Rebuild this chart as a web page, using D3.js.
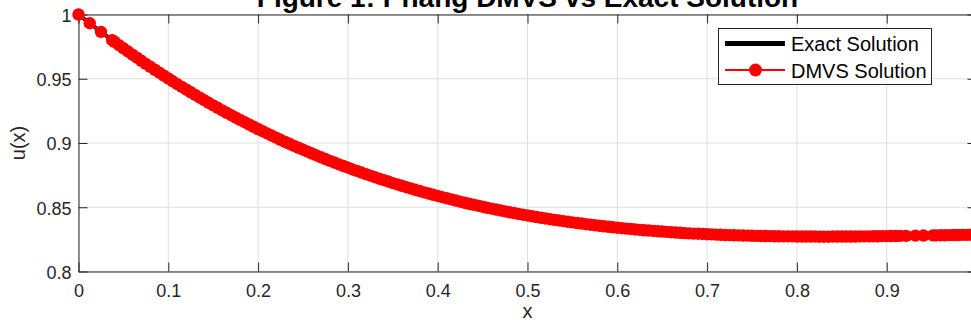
<!DOCTYPE html>
<html>
<head>
<meta charset="utf-8">
<script src="https://cdn.jsdelivr.net/npm/d3@7"></script>
<style>
  html, body { margin: 0; padding: 0; background: #ffffff; }
  svg { display: block; }
</style>
</head>
<body>
<svg id="chart" width="971" height="329"></svg>
<script>
// ---- chart data ----
const titleText = "Figure 1: Phang DMVS vs Exact Solution";
const xLabel = "x";
const yLabel = "u(x)";
const seriesNames = ["Exact Solution", "DMVS Solution"];

const xTicks = [0, 0.1, 0.2, 0.3, 0.4, 0.5, 0.6, 0.7, 0.8, 0.9];
const xTickLabels = ["0", "0.1", "0.2", "0.3", "0.4", "0.5", "0.6", "0.7", "0.8", "0.9"];
const yTicks = [0.8, 0.85, 0.9, 0.95, 1];
const yTickLabels = ["0.8", "0.85", "0.9", "0.95", "1"];

// exact solution u(x)
const exactX = [0, 0.025, 0.05, 0.075, 0.1, 0.125, 0.15, 0.175, 0.2, 0.225, 0.25, 0.275, 0.3, 0.325,
  0.35, 0.375, 0.4, 0.425, 0.45, 0.475, 0.5, 0.525, 0.55, 0.575, 0.6, 0.625, 0.65, 0.675, 0.7,
  0.725, 0.75, 0.775, 0.8, 0.825, 0.85, 0.875, 0.9, 0.925, 0.95, 0.975, 1.0];
const exactU = [1.0000, 0.9865, 0.9737, 0.9616, 0.9502, 0.9395, 0.9293, 0.9198, 0.9109, 0.9025,
  0.8948, 0.8875, 0.8808, 0.8746, 0.8688, 0.8636, 0.8588, 0.8544, 0.8504, 0.8468, 0.8436, 0.8407,
  0.8382, 0.8360, 0.8341, 0.8324, 0.8311, 0.8299, 0.8290, 0.8283, 0.8278, 0.8274, 0.8272, 0.8271,
  0.8272, 0.8273, 0.8275, 0.8278, 0.8281, 0.8284, 0.8287];

// DMVS nodes and computed values
const dmvsX = [0, 0.0125, 0.025, 0.0375,
  0.04, 0.045, 0.05, 0.055, 0.06, 0.065, 0.07, 0.075, 0.08, 0.085, 0.09, 0.095,
  0.1, 0.105, 0.11, 0.115, 0.12, 0.125, 0.13, 0.135, 0.14, 0.145,
  0.15, 0.155, 0.16, 0.165, 0.17, 0.175, 0.18, 0.185, 0.19, 0.195,
  0.2, 0.205, 0.21, 0.215, 0.22, 0.225, 0.23, 0.235, 0.24, 0.245,
  0.25, 0.255, 0.26, 0.265, 0.27, 0.275, 0.28, 0.285, 0.29, 0.295,
  0.3, 0.305, 0.31, 0.315, 0.32, 0.325, 0.33, 0.335, 0.34, 0.345,
  0.35, 0.355, 0.36, 0.365, 0.37, 0.375, 0.38, 0.385, 0.39, 0.395,
  0.4, 0.405, 0.41, 0.415, 0.42, 0.425, 0.43, 0.435, 0.44, 0.445,
  0.45, 0.455, 0.46, 0.465, 0.47, 0.475, 0.48, 0.485, 0.49, 0.495,
  0.5, 0.505, 0.51, 0.515, 0.52, 0.525, 0.53, 0.535, 0.54, 0.545,
  0.55, 0.555, 0.56, 0.565, 0.57, 0.575, 0.58, 0.585, 0.59, 0.595,
  0.6, 0.605, 0.61, 0.615, 0.62, 0.625, 0.63, 0.635, 0.64, 0.645,
  0.65, 0.655, 0.66, 0.665, 0.67, 0.675, 0.68, 0.685, 0.69, 0.695,
  0.7, 0.705, 0.71, 0.715, 0.72, 0.725, 0.73, 0.735, 0.74, 0.745,
  0.75, 0.755, 0.76, 0.765, 0.77, 0.775, 0.78, 0.785, 0.79, 0.795,
  0.8, 0.805, 0.81, 0.815, 0.82, 0.825, 0.83, 0.835, 0.84, 0.845,
  0.85, 0.855, 0.86, 0.865, 0.87, 0.875, 0.88, 0.885, 0.89, 0.895,
  0.9, 0.905, 0.91, 0.915, 0.9215, 0.932, 0.941, 0.9515,
  0.955, 0.96, 0.965, 0.97, 0.975, 0.98, 0.985, 0.99, 0.995, 1.0];
const dmvsU = [1.0000, 0.9932, 0.9865, 0.9800,
  0.9788, 0.9762, 0.9737, 0.9713, 0.9688, 0.9664, 0.9640, 0.9616, 0.9593, 0.9570, 0.9547, 0.9525,
  0.9502, 0.9480, 0.9458, 0.9437, 0.9416, 0.9395, 0.9374, 0.9353, 0.9333, 0.9313,
  0.9293, 0.9274, 0.9254, 0.9235, 0.9217, 0.9198, 0.9180, 0.9162, 0.9144, 0.9126,
  0.9109, 0.9092, 0.9075, 0.9058, 0.9042, 0.9025, 0.9009, 0.8994, 0.8978, 0.8963,
  0.8948, 0.8933, 0.8918, 0.8904, 0.8889, 0.8875, 0.8861, 0.8848, 0.8834, 0.8821,
  0.8808, 0.8795, 0.8783, 0.8770, 0.8758, 0.8746, 0.8734, 0.8722, 0.8711, 0.8700,
  0.8688, 0.8678, 0.8667, 0.8656, 0.8646, 0.8636, 0.8626, 0.8616, 0.8607, 0.8597,
  0.8588, 0.8579, 0.8570, 0.8561, 0.8552, 0.8544, 0.8535, 0.8527, 0.8519, 0.8512,
  0.8504, 0.8496, 0.8489, 0.8482, 0.8475, 0.8468, 0.8461, 0.8455, 0.8448, 0.8442,
  0.8436, 0.8430, 0.8424, 0.8418, 0.8413, 0.8407, 0.8402, 0.8397, 0.8392, 0.8387,
  0.8382, 0.8377, 0.8373, 0.8368, 0.8364, 0.8360, 0.8356, 0.8352, 0.8348, 0.8344,
  0.8341, 0.8337, 0.8334, 0.8331, 0.8327, 0.8324, 0.8321, 0.8319, 0.8316, 0.8313,
  0.8311, 0.8308, 0.8306, 0.8303, 0.8301, 0.8299, 0.8297, 0.8295, 0.8294, 0.8292,
  0.8290, 0.8289, 0.8287, 0.8286, 0.8284, 0.8283, 0.8282, 0.8281, 0.8280, 0.8279,
  0.8278, 0.8277, 0.8276, 0.8276, 0.8275, 0.8274, 0.8274, 0.8273, 0.8273, 0.8273,
  0.8272, 0.8272, 0.8272, 0.8272, 0.8272, 0.8271, 0.8271, 0.8271, 0.8272, 0.8272,
  0.8272, 0.8272, 0.8272, 0.8272, 0.8273, 0.8273, 0.8273, 0.8274, 0.8274, 0.8275,
  0.8275, 0.8276, 0.8276, 0.8277, 0.8277, 0.8279, 0.8280, 0.8281,
  0.8281, 0.8282, 0.8282, 0.8283, 0.8284, 0.8284, 0.8285, 0.8285, 0.8286, 0.8287];

// ---- layout & style ----
const FONT = "'Liberation Sans', Arial, Helvetica, sans-serif";
const AXIS_COLOR = "#262626";
const GRID_COLOR = "#dfdfdf";

const svg = d3.select("#chart");

const x = d3.scaleLinear().domain([0, 1]).range([78.5, 976.5]);
const y = d3.scaleLinear().domain([0.8, 1]).range([271.5, 14.5]);

// grid
const grid = svg.append("g");
grid.selectAll("line.gx").data(xTicks).join("line")
  .attr("x1", d => x(d)).attr("x2", d => x(d))
  .attr("y1", y(0.8)).attr("y2", y(1))
  .attr("stroke", GRID_COLOR).attr("stroke-width", 1);
grid.selectAll("line.gy").data(yTicks).join("line")
  .attr("x1", x(0)).attr("x2", x(1))
  .attr("y1", d => y(d)).attr("y2", d => y(d))
  .attr("stroke", GRID_COLOR).attr("stroke-width", 1);

function styleAxis(g, fontSize) {
  g.attr("font-family", FONT).attr("font-size", fontSize);
  g.select(".domain").attr("stroke", AXIS_COLOR).attr("stroke-width", 1);
  g.selectAll(".tick line").attr("stroke", AXIS_COLOR).attr("stroke-width", 1);
  g.selectAll(".tick text").attr("fill", AXIS_COLOR);
}

// bottom axis with labels
svg.append("g")
  .attr("transform", `translate(0,${y(0.8)})`)
  .call(d3.axisBottom(x).tickValues(xTicks)
    .tickFormat((d, i) => xTickLabels[i])
    .tickSizeInner(-9).tickSizeOuter(0).tickPadding(13))
  .call(g => styleAxis(g, 18));

// top axis (ticks only)
svg.append("g")
  .attr("transform", `translate(0,${y(1)})`)
  .call(d3.axisTop(x).tickValues(xTicks).tickFormat(() => "")
    .tickSizeInner(-9).tickSizeOuter(0))
  .call(g => styleAxis(g, 18));

// left axis with labels
svg.append("g")
  .attr("transform", `translate(${x(0)},0)`)
  .call(d3.axisLeft(y).tickValues(yTicks)
    .tickFormat((d, i) => yTickLabels[i])
    .tickSizeInner(-9).tickSizeOuter(0).tickPadding(7))
  .call(g => styleAxis(g, 18))
  .call(g => g.selectAll(".tick text").attr("dy", "0.38em"));

// right axis (ticks only)
svg.append("g")
  .attr("transform", `translate(${x(1)},0)`)
  .call(d3.axisRight(y).tickValues(yTicks).tickFormat(() => "")
    .tickSizeInner(-9).tickSizeOuter(0))
  .call(g => styleAxis(g, 18));

// exact solution: thick black line
const exactLine = d3.line()
  .x((d, i) => x(exactX[i]))
  .y((d, i) => y(exactU[i]));
svg.append("path")
  .attr("d", exactLine(exactU))
  .attr("fill", "none")
  .attr("stroke", "#000000")
  .attr("stroke-width", 4)
  .attr("stroke-linejoin", "round");

// DMVS solution: red line with filled circle markers
const dmvsLine = d3.line()
  .x((d, i) => x(dmvsX[i]))
  .y((d, i) => y(dmvsU[i]));
svg.append("path")
  .attr("d", dmvsLine(dmvsU))
  .attr("fill", "none")
  .attr("stroke", "#ff0000")
  .attr("stroke-width", 2);
svg.append("g").selectAll("circle").data(dmvsU).join("circle")
  .attr("cx", (d, i) => x(dmvsX[i]))
  .attr("cy", d => y(d))
  .attr("r", 6.2)
  .attr("fill", "#ff0000");

// legend
const legend = svg.append("g").attr("font-family", FONT).attr("font-size", 20);
legend.append("rect")
  .attr("x", 718.5).attr("y", 28.5).attr("width", 213).attr("height", 56)
  .attr("fill", "#ffffff").attr("stroke", AXIS_COLOR).attr("stroke-width", 1);
legend.append("line")
  .attr("x1", 725).attr("x2", 785).attr("y1", 43.5).attr("y2", 43.5)
  .attr("stroke", "#000000").attr("stroke-width", 5);
legend.append("text").attr("x", 791).attr("y", 51).attr("fill", "#000").text(seriesNames[0]);
legend.append("line")
  .attr("x1", 725).attr("x2", 785).attr("y1", 70).attr("y2", 70)
  .attr("stroke", "#ff0000").attr("stroke-width", 2);
legend.append("circle").attr("cx", 755.5).attr("cy", 70).attr("r", 6.5).attr("fill", "#ff0000");
legend.append("text").attr("x", 791).attr("y", 77.5).attr("fill", "#000").text(seriesNames[1]);

// title
svg.append("text")
  .attr("x", (x(0) + x(1)) / 2).attr("y", 7)
  .attr("text-anchor", "middle")
  .attr("font-family", FONT).attr("font-size", 28).attr("font-weight", "bold")
  .attr("fill", "#000")
  .text(titleText);

// axis labels
svg.append("text")
  .attr("x", (x(0) + x(1)) / 2).attr("y", 318)
  .attr("text-anchor", "middle")
  .attr("font-family", FONT).attr("font-size", 20)
  .attr("fill", AXIS_COLOR)
  .text(xLabel);
svg.append("text")
  .attr("transform", `translate(25,${(y(0.8) + y(1)) / 2}) rotate(-90)`)
  .attr("text-anchor", "middle")
  .attr("font-family", FONT).attr("font-size", 20)
  .attr("fill", AXIS_COLOR)
  .text(yLabel);
</script>
</body>
</html>
